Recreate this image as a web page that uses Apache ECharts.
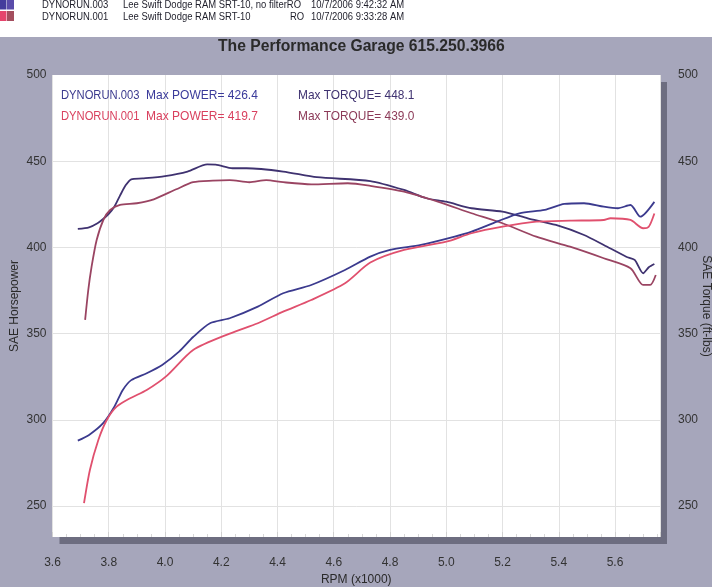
<!DOCTYPE html>
<html>
<head>
<meta charset="utf-8">
<script src="https://cdn.jsdelivr.net/npm/echarts@6/dist/echarts.min.js"></script>
<style>
html,body{margin:0;padding:0;background:#fff;}
#chart{width:712px;height:587px;}
</style>
</head>
<body>
<div id="chart"></div>
<script>
// ---- Data ----
// DYNORUN.003 (no filter) torque
const rpmTq3 = [3.69, 3.73, 3.76, 3.78, 3.80, 3.82, 3.84, 3.86, 3.88, 3.92, 4.00, 4.08, 4.15, 4.18, 4.24, 4.29, 4.42, 4.54, 4.73, 4.85, 4.93, 5.00, 5.09, 5.20, 5.29, 5.39, 5.49, 5.56, 5.64, 5.67, 5.70, 5.72, 5.74];
const tq3    = [410.7, 411.6, 414.0, 416.5, 419.5, 423.6, 430.0, 436.0, 439.5, 440.0, 441.4, 444.0, 448.1, 448.0, 445.9, 445.9, 444.0, 440.7, 438.5, 433.3, 428.5, 426.5, 422.7, 420.7, 416.9, 413.0, 407.2, 401.4, 394.6, 392.7, 385.0, 388.5, 390.4];
// DYNORUN.001 torque
const rpmTq1 = [3.716, 3.727, 3.739, 3.757, 3.781, 3.805, 3.84, 3.90, 3.96, 4.04, 4.10, 4.17, 4.23, 4.30, 4.36, 4.42, 4.52, 4.65, 4.73, 4.85, 4.97, 5.09, 5.20, 5.32, 5.44, 5.56, 5.655, 5.70, 5.725, 5.745];
const tq1    = [357.9, 375.0, 388.8, 404.3, 416.0, 421.7, 424.6, 425.6, 427.9, 433.7, 437.8, 438.7, 439.0, 437.8, 439.0, 437.8, 436.6, 437.2, 435.7, 432.3, 426.5, 419.8, 414.0, 406.2, 400.4, 393.7, 387.9, 378.2, 378.2, 384.0];
// DYNORUN.003 power
const rpmPw3 = [3.69, 3.73, 3.78, 3.82, 3.85, 3.88, 3.935, 3.99, 4.05, 4.10, 4.16, 4.23, 4.33, 4.42, 4.52, 4.64, 4.73, 4.80, 4.91, 5.03, 5.09, 5.18, 5.26, 5.35, 5.42, 5.49, 5.56, 5.61, 5.655, 5.69, 5.74];
const pw3    = [287.9, 291.2, 298.0, 307.6, 317.3, 323.0, 327.0, 331.8, 339.5, 348.0, 356.0, 358.9, 365.6, 373.4, 378.2, 386.9, 394.6, 398.5, 401.4, 406.2, 409.1, 414.9, 419.8, 421.7, 425.2, 425.6, 423.6, 422.7, 424.6, 417.8, 426.4];
// DYNORUN.001 power
const rpmPw1 = [3.712, 3.733, 3.763, 3.793, 3.828, 3.876, 3.935, 4.006, 4.10, 4.23, 4.33, 4.42, 4.52, 4.64, 4.73, 4.85, 5.00, 5.09, 5.20, 5.32, 5.44, 5.56, 5.584, 5.655, 5.70, 5.72, 5.74];
const pw1    = [251.6, 270.9, 288.3, 299.9, 307.6, 312.5, 317.3, 325.5, 340.5, 350.0, 356.0, 362.7, 369.5, 379.2, 391.2, 398.5, 403.3, 408.2, 412.0, 414.9, 415.5, 415.9, 416.9, 415.9, 411.1, 412.0, 419.7];

const hGrid = [250, 300, 350, 400, 450];
const xMin = 3.6, xMax = 5.76, yMin = 232, yMax = 500;

const header = [
  ['DYNORUN.003', 'Lee Swift Dodge RAM SRT-10, no filterRO', '', '10/7/2006 9:42:32 AM'],
  ['DYNORUN.001', 'Lee Swift Dodge RAM SRT-10', 'RO', '10/7/2006 9:33:28 AM']
];
const legendRows = [
  ['DYNORUN.003', 'Max POWER= 426.4', 'Max TORQUE= 448.1'],
  ['DYNORUN.001', 'Max POWER= 419.7', 'Max TORQUE= 439.0']
];

// ---- styles ----
const C_PW3 = '#3b3a8e', C_TQ3 = '#3f3270', C_PW1 = '#e0506e', C_TQ1 = '#9a4462';
const SANS = "'Liberation Sans', Arial, sans-serif";

function zip(xs, ys){ return xs.map((x,i)=>[x, ys[i]]); }

const chart = echarts.init(document.getElementById('chart'), null, {renderer:'canvas'});

const graphics = [
  {type:'rect', shape:{x:0,y:0,width:712,height:37}, style:{fill:'#ffffff'}, z:-10},
  {type:'rect', shape:{x:0,y:0,width:6.5,height:9.5}, style:{fill:'#433c9c'}},
  {type:'rect', shape:{x:7,y:0,width:7,height:9.5}, style:{fill:'#5a4caa'}},
  {type:'rect', shape:{x:0,y:11,width:6.5,height:10}, style:{fill:'#e6446c'}},
  {type:'rect', shape:{x:7,y:11,width:7,height:10}, style:{fill:'#a44e5e'}},
  {type:'text', x:218, y:39, scaleX:0.98, style:{text:'The Performance Garage 615.250.3966', font:'bold 16px ' + SANS, fill:'#2a2a2a'}}
];
const hx = [42, 123, 290, 311], hy = [5, 17];
header.forEach((row, r) => row.forEach((t, c) => {
  if (!t) return;
  graphics.push({type:'text', x:hx[c], y:hy[r], scaleX:0.86, style:{text:t, font:'11px ' + SANS, fill:'#1e1e2a', verticalAlign:'middle'}});
}));
const lx = [61, 146, 298], ly = [95, 116], ls = [0.83, 0.89, 0.88];
const lc = [[C_PW3, '#3a3a9a', C_TQ3], ['#d9405e', '#d9405e', '#8c3a58']];
legendRows.forEach((row, r) => row.forEach((t, c) => {
  graphics.push({type:'text', x:lx[c], y:ly[r], scaleX:ls[c], style:{text:t, font:'13.5px ' + SANS, fill:lc[r][c], verticalAlign:'middle'}, z:10});
}));

function lineSeries(name, data, color, extra){
  return Object.assign({
    name, type:'line', data, showSymbol:false, symbol:'none', smooth:0.25,
    lineStyle:{color, width:1.8}, itemStyle:{color}, z:5
  }, extra || {});
}

const option = {
  backgroundColor:'#a6a6bb',
  animation:false,
  grid:{left:52.5, right:52, top:75, bottom:50, show:true, backgroundColor:'#ffffff', borderWidth:0,
        outerBoundsMode:'none', containLabel:false,
        shadowColor:'#6d6d80', shadowBlur:0, shadowOffsetX:7, shadowOffsetY:7},
  xAxis:{
    type:'value', min:xMin, max:xMax, interval:0.2,
    name:'RPM (x1000)', nameLocation:'middle', nameGap:37, nameMoveOverlap:false,
    nameTextStyle:{color:'#2a2a2a', fontSize:12, fontFamily:SANS},
    axisLine:{show:false},
    axisTick:{show:true, inside:true, length:5, lineStyle:{color:'#d0d0d0'}},
    minorTick:{show:true, splitNumber:4, length:3, lineStyle:{color:'#d8d8d8'}},
    axisLabel:{margin:20, color:'#333', fontSize:12, fontFamily:SANS,
      formatter:v => Math.abs(v*5 - Math.round(v*5)) < 1e-6 ? v.toFixed(1) : ''},
    splitLine:{show:true, lineStyle:{color:'#e2e2e2', width:1}}
  },
  yAxis:[
    {type:'value', min:yMin, max:yMax, interval:2, position:'left',
     name:'SAE Horsepower', nameLocation:'middle', nameGap:32, nameRotate:90, nameMoveOverlap:false,
     nameTextStyle:{color:'#2a2a2a', fontSize:12, fontFamily:SANS},
     axisLine:{show:false}, axisTick:{show:false}, splitLine:{show:false},
     axisLabel:{margin:6, color:'#333', fontSize:12, fontFamily:SANS, formatter:v => v % 50 === 0 ? String(v) : ''}},
    {type:'value', min:yMin, max:yMax, interval:2, position:'right',
     name:'SAE Torque (ft-lbs)', nameLocation:'middle', nameGap:40, nameRotate:-90, nameMoveOverlap:false,
     nameTextStyle:{color:'#2a2a2a', fontSize:12, fontFamily:SANS},
     axisLine:{show:false}, axisTick:{show:false}, splitLine:{show:false},
     axisLabel:{margin:18, color:'#333', fontSize:12, fontFamily:SANS, formatter:v => v % 50 === 0 ? String(v) : ''}}
  ],
  graphic: graphics,
  series:[
    lineSeries('DYNORUN.003 Torque', zip(rpmTq3, tq3), C_TQ3, {yAxisIndex:1,
      markLine:{silent:true, symbol:'none', label:{show:false}, lineStyle:{color:'#e2e2e2', type:'solid', width:1},
        data: hGrid.map(v => ({yAxis:v}))}, }),
    lineSeries('DYNORUN.001 Torque', zip(rpmTq1, tq1), C_TQ1, {yAxisIndex:1}),
    lineSeries('DYNORUN.003 Power', zip(rpmPw3, pw3), C_PW3),
    lineSeries('DYNORUN.001 Power', zip(rpmPw1, pw1), C_PW1)
  ]
};
chart.setOption(option);
</script>
</body>
</html>
